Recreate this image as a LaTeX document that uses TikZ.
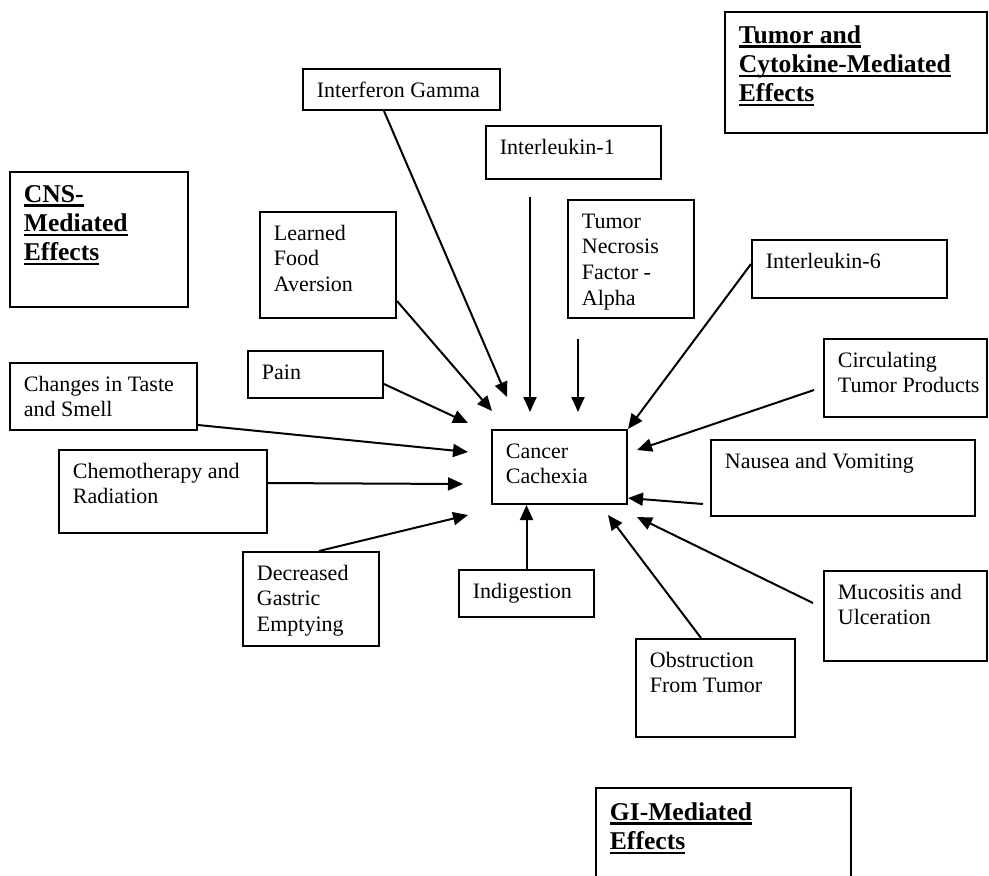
\documentclass[tikz,border=0pt]{standalone}
\usepackage{fontspec}
\setmainfont{Liberation Serif}
\usetikzlibrary{arrows.meta,calc,fit}

% heavy underline for headings
\newsavebox{\ulxbox}
\newcommand{\ulx}[1]{\leavevmode\sbox{\ulxbox}{#1}\rlap{\rule[-2.4pt]{\wd\ulxbox}{1.2pt}}\usebox{\ulxbox}}

% boxed label: [baseline offset]{name}{x1}{y1}{x2}{y2}{text}
\newcommand{\tbox}[7][29]{%
  \node[frame, fit={(#3,#4) (#5,#6)}] (#2) {};
  \node[txt] (#2-t) at ($(#2.north west)+(14.5,#1)$) {\parbox[t]{300pt}{\raggedright #7}};}
\newcommand{\hd}{\fontsize{12.8}{14.6}\selectfont\bfseries}

\begin{document}
\begin{tikzpicture}[x=0.5pt, y=-0.5pt,
  frame/.style={draw, line width=1pt, inner sep=0pt},
  txt/.style={anchor=base west, inner sep=0pt, font=\fontsize{11}{12.9}\selectfont},
  arr/.style={line width=1pt, -{Triangle[length=7.5pt, width=6.5pt]}}]
\useasboundingbox (0,0) rectangle (989,875);
\clip (0,0) rectangle (989,875);

% group headings
\tbox[31]{cns}{10}{172}{188}{307}{\hd\ulx{CNS-}\\\ulx{Mediated}\\\ulx{Effects}}
\tbox[32]{tce}{725}{12}{987}{133}{\hd\ulx{Tumor and}\\\ulx{Cytokine-Mediated}\\\ulx{Effects}}
\tbox[33]{gi}{596}{788}{851}{900}{\hd\ulx{GI-Mediated}\\\ulx{Effects}}

% central effect
\tbox{cc}{492}{430}{627}{504}{Cancer\\Cachexia}

% contributing factors
\tbox{ifg}{303}{69}{500}{110}{Interferon Gamma}
\tbox{il1}{486}{126}{661}{179}{Interleukin-1}
\tbox{tnf}{568}{200}{694}{318}{Tumor\\Necrosis\\Factor -\\Alpha}
\tbox{il6}{752}{240}{947}{298}{Interleukin-6}
\tbox{lfa}{260}{212}{396}{318}{Learned\\Food\\Aversion}
\tbox{pain}{248}{351}{383}{398}{Pain}
\tbox{cts}{10}{363}{197}{430}{Changes in Taste\\and Smell}
\tbox{chr}{59}{450}{267}{533}{Chemotherapy and\\Radiation}
\tbox{dge}{243}{552}{379}{646}{Decreased\\Gastric\\Emptying}
\tbox{ind}{459}{570}{594}{617}{Indigestion}
\tbox{ctp}{824}{339}{987}{417}{Circulating\\Tumor Products}
\tbox{nv}{711}{440}{975}{516}{Nausea and Vomiting}
\tbox{muc}{824}{571}{987}{661}{Mucositis and\\Ulceration}
\tbox{obs}{636}{639}{795}{737}{Obstruction\\From Tumor}

% free arrow ends around the central box
\coordinate (tLFA) at (492,411);
\coordinate (tIFG) at (507,397);
\coordinate (sIL1) at (530,197);
\coordinate (tIL1) at (530,412);
\coordinate (sTNF) at (578,339);
\coordinate (tTNF) at (578,412);
\coordinate (tPain) at (468,423);
\coordinate (tCTS) at (468,452);
\coordinate (tCHR) at (463,484);
\coordinate (tDGE) at (468,515);
\coordinate (sCTP) at (814,390);
\coordinate (tCTP) at (637,450);
\coordinate (sNV) at (703,504);
\coordinate (sMUC) at (813,603);
\coordinate (tMUC) at (637,517);
\coordinate (tOBS) at (608,515);

% arrows
\draw[arr] ($(ifg.south west)+(82,0)$) -- (tIFG);
\draw[arr] (sIL1) -- (tIL1);
\draw[arr] (sTNF) -- (tTNF);
\draw[arr] ($(il6.north west)+(0,25)$) -- (cc.north east);
\draw[arr] ($(lfa.south east)+(0,-18)$) -- (tLFA);
\draw[arr] ($(pain.south east)+(0,-15)$) -- (tPain);
\draw[arr] ($(cts.south east)+(0,-6)$) -- (tCTS);
\draw[arr] ($(chr.north east)+(0,34)$) -- (tCHR);
\draw[arr] ($(dge.north west)+(77,0)$) -- (tDGE);
\draw[arr] (ind.north) -- (ind.north |- cc.south);
\draw[arr] (sCTP) -- (tCTP);
\draw[arr] (sNV) -- ($(cc.south east)+(0,-7)$);
\draw[arr] (sMUC) -- (tMUC);
\draw[arr] ($(obs.north west)+(66,0)$) -- (tOBS);
\end{tikzpicture}
\end{document}
